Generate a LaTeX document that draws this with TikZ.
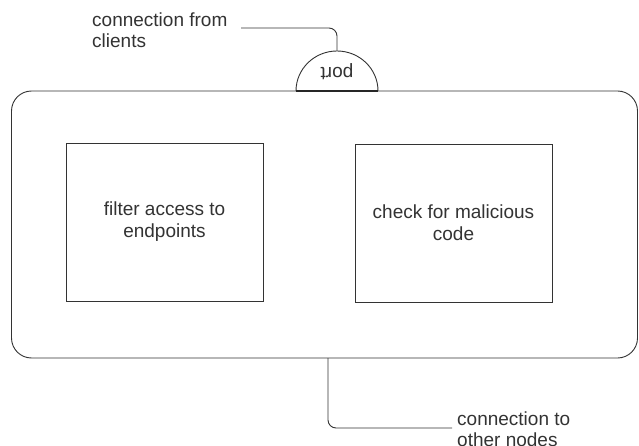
\documentclass[tikz,border=0pt]{standalone}
\usepackage{fontspec}
\setmainfont{Liberation Sans}
\begin{document}
\begin{tikzpicture}[x=1pt,y=-1pt,
  line/.style={draw=black!80, line width=0.9pt},
  lbl/.style={text=black!80, font=\fontsize{19}{20.5}\selectfont, align=left, inner sep=0pt},
  box/.style={line, minimum width=197pt, minimum height=158pt, align=center, text=black!80, font=\fontsize{19}{22}\selectfont, inner sep=0pt}]
\useasboundingbox (0,0) rectangle (639,446);
\fill[white] (0,0) rectangle (639,446);
% outer rounded box
\node[line, rounded corners=20pt, minimum width=626pt, minimum height=267pt, inner sep=0pt] (outer) at (324.5,224.5) {};
% inner boxes
\node[box] (filter) at (164.5,222) {filter access to\\endpoints};
\node[box] (check) at (453.5,223) {check for malicious\\code};
% port semicircle
\coordinate (pl) at (296,91);
\coordinate (pr) at (378,91);
\coordinate (ptop) at (337,51);
\draw[line, fill=white] (pl) arc[start angle=180, end angle=0, x radius=41pt, y radius=40pt];
\draw[black!85, line width=1.6pt] (pl) -- (pr);
\node[lbl, rotate=180, font=\fontsize{19}{20}\selectfont] (port) at (337,72) {port};
% top label & connector
\node[lbl, anchor=north west] (clients) at (92,13) {connection from\\clients};
\coordinate (tstart) at (241,28);
\draw[line, rounded corners=8pt] (tstart) -- (337,28) -- (ptop);
% bottom label & connector
\node[lbl, anchor=north west] (others) at (457,412) {connection to\\other nodes};
\coordinate (bend) at (452,428);
\draw[line, rounded corners=8pt] (328,358) -- (328,428) -- (bend);
\end{tikzpicture}
\end{document}
